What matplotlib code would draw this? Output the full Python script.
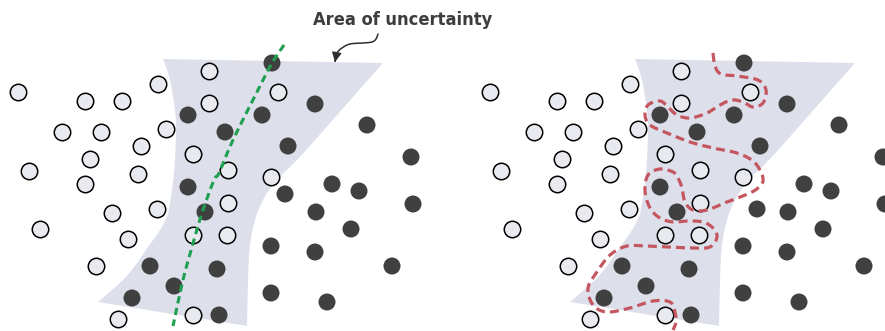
import numpy as np
import matplotlib
matplotlib.use("Agg")
import matplotlib.pyplot as plt
from matplotlib.patches import Polygon, FancyArrowPatch
from matplotlib.path import Path

# ---------------- data (pixel-space coordinates of one panel) ----------------
panel_offsets = [0, 472]

white_x = [18, 85, 122, 158, 209, 209, 278, 62, 101, 166, 141, 193, 90, 29, 138,
           228, 271, 85, 112, 157, 228, 40, 128, 193, 227, 96, 118, 193]
white_y = [92, 101, 101, 84, 71, 103, 92, 132, 132, 129, 146, 154, 159, 171, 174,
           170, 177, 184, 213, 209, 203, 229, 239, 235, 235, 266, 319, 315]

dark_left_x = [272, 315, 188, 262, 367, 225, 288, 411, 188, 285, 332, 359, 205, 413,
               316, 351, 271, 315, 150, 217, 392, 174, 132, 271, 327, 219]
dark_left_y = [63, 104, 115, 115, 125, 132, 146, 157, 187, 194, 184, 191, 212, 204,
               212, 229, 246, 252, 266, 269, 266, 286, 298, 293, 302, 315]

dark_right_x = [272, 315, 188, 262, 367, 225, 288, 411, 188, 285, 332, 359, 205, 413,
                316, 351, 271, 315, 150, 217, 392, 174, 132, 271, 327, 219]
dark_right_y = [63, 104, 115, 115, 125, 132, 146, 157, 187, 209, 184, 191, 212, 204,
                212, 229, 246, 252, 266, 269, 266, 286, 298, 293, 302, 315]

# uncertainty region outline: left edge (top->bottom), right edge (bottom->top)
region_left_x = [163, 168, 172, 176, 175, 173, 168, 160, 148, 137, 123, 98]
region_left_y = [59, 73, 90, 123, 157, 182, 213, 230, 247, 263, 280, 302]
region_right_x = [247, 248, 250, 255, 263, 275, 292, 308, 345, 383]
region_right_y = [326, 280, 245, 220, 200, 182, 165, 148, 106, 63]

# linear decision boundary (left panel)
linear_x = [284, 272, 258, 233, 219, 214, 202, 192, 183, 173]
linear_y = [45, 63, 90, 140, 173, 180, 213, 247, 280, 326]

# over-fitted boundary (right panel, panel-local coordinates)
wiggle_x = [241, 243, 249, 265, 286, 294, 291, 281, 271, 260, 248, 235, 218, 205,
            196, 188, 176, 173, 178, 195, 218, 241, 265, 281, 289, 291, 287, 278,
            255, 235, 221, 213, 210, 206, 201, 188, 176, 173, 178, 188, 201, 215,
            231, 241, 245, 238, 221, 198, 175, 155, 138, 125, 116, 121, 135, 158,
            181, 198, 203, 204, 201]
wiggle_y = [53, 66, 74, 76, 80, 90, 103, 107, 102, 100, 105, 113, 118, 115,
            107, 101, 105, 115, 125, 133, 142, 148, 153, 161, 172, 181, 187, 193,
            202, 210, 210, 202, 188, 178, 172, 169, 175, 191, 208, 218, 222, 221,
            222, 228, 237, 247, 248, 247, 246, 246, 255, 272, 288, 305, 312, 308,
            301, 302, 312, 322, 330]

arrow_x = [378, 376, 372, 363, 350, 342, 337, 335]
arrow_y = [34, 39, 42, 43, 44, 48, 53, 62]

label_text = "Area of uncertainty"

# ---------------- helpers ----------------
def catmull(xs, ys, n=14):
    pts = np.column_stack([xs, ys]).astype(float)
    P = np.vstack([pts[0], pts, pts[-1]])
    out = []
    t = np.linspace(0, 1, n, endpoint=False)[:, None]
    for i in range(1, len(P) - 2):
        p0, p1, p2, p3 = P[i - 1], P[i], P[i + 1], P[i + 2]
        seg = 0.5 * ((2 * p1) + (-p0 + p2) * t + (2 * p0 - 5 * p1 + 4 * p2 - p3) * t ** 2
                     + (-p0 + 3 * p1 - 3 * p2 + p3) * t ** 3)
        out.append(seg)
    out.append(P[-2][None])
    return np.vstack(out)

# ---------------- figure ----------------
fig = plt.figure(figsize=(8.85, 3.31), dpi=100)
ax = fig.add_axes([0, 0, 1, 1])
ax.set_xlim(0, 885)
ax.set_ylim(331, 0)
ax.axis("off")

region_color = "#dddfeb"
white_face = "#e9eaf0"
dark_color = "#404040"

for k, off in enumerate(panel_offsets):
    left = catmull(region_left_x, region_left_y)
    right = catmull(region_right_x, region_right_y)
    outline = np.vstack([left, right])
    outline[:, 0] += off
    ax.add_patch(Polygon(outline, closed=True, facecolor=region_color,
                         edgecolor="none", zorder=1))

    ax.scatter(np.array(white_x) + off, white_y, s=140, facecolor=white_face,
               edgecolor="black", linewidth=1.1, zorder=3)
    dx = dark_left_x if k == 0 else dark_right_x
    dy = dark_left_y if k == 0 else dark_right_y
    ax.scatter(np.array(dx) + off, dy, s=150, facecolor=dark_color,
               edgecolor="none", zorder=3)

# linear boundary
lin = catmull(linear_x, linear_y)
ax.plot(lin[:, 0], lin[:, 1], color="#1fa050", lw=2.2, dashes=(2.4, 1.5), zorder=4)

# wiggly boundary
wig = catmull(wiggle_x, wiggle_y)
ax.plot(wig[:, 0] + panel_offsets[1], wig[:, 1], color="#c4565f", lw=2.3,
        dashes=(2.8, 1.6), zorder=4)

# annotation
ax.text(313, 20, label_text, ha="left", va="center", fontsize=13.1,
        fontweight="bold", fontstretch="condensed", color="#3d3d3d",
        family=["DejaVu Sans"], zorder=5)
arr = catmull(arrow_x, arrow_y, n=8)
ax.add_patch(FancyArrowPatch(path=Path(arr), arrowstyle="-|>,head_length=0.55,head_width=0.28",
                             mutation_scale=10, color="#2e2e2e", lw=1.1, zorder=5))

fig.savefig("out.png", dpi=100)
